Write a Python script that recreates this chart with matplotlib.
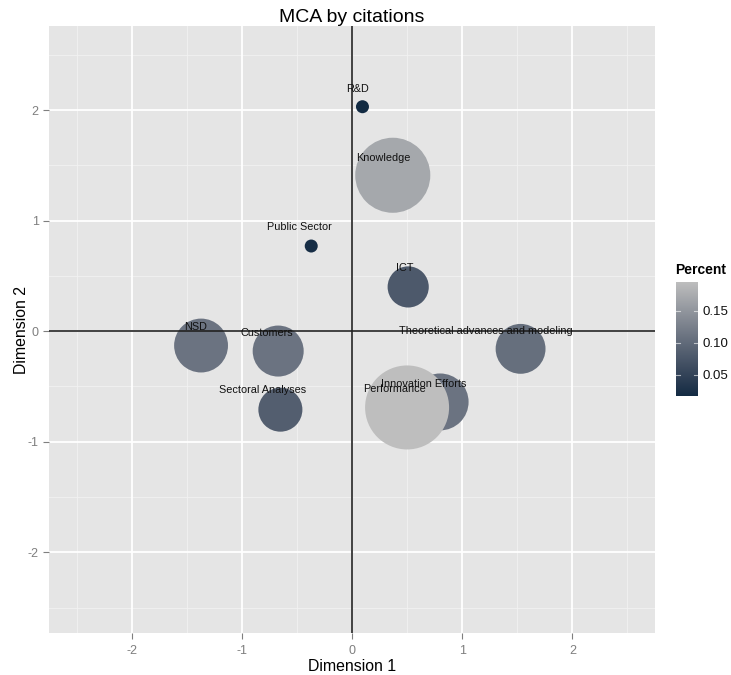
import numpy as np
import matplotlib
matplotlib.use("Agg")
import matplotlib.pyplot as plt
from matplotlib.colors import ListedColormap, Normalize, to_rgb

plt.rcParams['font.family'] = ['Liberation Sans', 'DejaVu Sans']

# ---- data ----
categories = ["R&D", "Knowledge", "Public Sector", "ICT", "NSD", "Customers",
              "Theoretical advances and modeling", "Sectoral Analyses",
              "Innovation Efforts", "Performance"]
dim1 = [0.095, 0.37, -0.37, 0.51, -1.37, -0.67, 1.53, -0.65, 0.80, 0.50]
dim2 = [2.03, 1.41, 0.77, 0.40, -0.13, -0.18, -0.16, -0.71, -0.64, -0.69]
percent = [0.017, 0.170, 0.020, 0.078, 0.110, 0.110, 0.105, 0.085, 0.110, 0.195]
bubble = [0.017, 0.153, 0.017, 0.045, 0.076, 0.068, 0.065, 0.051, 0.085, 0.195]
label_x = [0.05, 0.28, -0.48, 0.48, -1.42, -0.77, 1.21, -0.81, 0.65, 0.39]
label_y = [2.19, 1.57, 0.94, 0.57, 0.04, -0.02, 0.00, -0.53, -0.48, -0.52]
ticks = [-2, -1, 0, 1, 2]
cbar_ticks = [0.05, 0.10, 0.15]


# ---- Lab-interpolated gradient (like ggplot scale_colour_gradient) ----
M = np.array([[0.4124, 0.3576, 0.1805], [0.2126, 0.7152, 0.0722], [0.0193, 0.1192, 0.9505]])
WHITE = np.array([0.95047, 1.0, 1.08883])


def srgb_to_lab(c):
    c = np.asarray(c, float)
    lin = np.where(c <= 0.04045, c / 12.92, ((c + 0.055) / 1.055) ** 2.4)
    xyz = M @ lin / WHITE
    f = np.where(xyz > 0.008856, np.cbrt(xyz), 7.787 * xyz + 16 / 116)
    return np.array([116 * f[1] - 16, 500 * (f[0] - f[1]), 200 * (f[1] - f[2])])


def lab_to_srgb(lab):
    L, a, b = lab
    fy = (L + 16) / 116
    f = np.array([fy + a / 500, fy, fy - b / 200])
    xyz = np.where(f ** 3 > 0.008856, f ** 3, (f - 16 / 116) / 7.787) * WHITE
    lin = np.clip(np.linalg.inv(M) @ xyz, 0, 1)
    c = np.where(lin <= 0.0031308, 12.92 * lin, 1.055 * lin ** (1 / 2.4) - 0.055)
    return np.clip(c, 0, 1)


lo = srgb_to_lab(to_rgb("#132B43"))
hi = srgb_to_lab(to_rgb("#BEBEBE"))
cmap = ListedColormap([lab_to_srgb(lo + (hi - lo) * t) for t in np.linspace(0, 1, 256)])

vmin, vmax = min(percent), max(percent)
norm = Normalize(vmin=vmin, vmax=vmax)

# ---- bubble diameters (area-style rescale) ----
b = np.array(bubble)
frac = (b - b.min()) / (b.max() - b.min())
d_px = 13 + (84 - 13) * np.sqrt(frac)
sizes = (d_px * 72 / 100) ** 2

fig = plt.figure(figsize=(7.31, 6.75), dpi=100)
ax = fig.add_axes([49 / 731, 1 - 633 / 675, (655 - 49) / 731, (633 - 26) / 675])
ax.set_facecolor("#E5E5E5")
ax.set_xlim(-2.75, 2.75)
ax.set_ylim(-2.73, 2.76)

for v in [-2.5, -1.5, -0.5, 0.5, 1.5, 2.5]:
    ax.axvline(v, color="#F2F2F2", lw=0.6, zorder=0)
    ax.axhline(v, color="#F2F2F2", lw=0.6, zorder=0)
for v in ticks:
    ax.axvline(v, color="white", lw=1.3, zorder=0.5)
    ax.axhline(v, color="white", lw=1.3, zorder=0.5)

ax.scatter(dim1, dim2, s=sizes, c=percent, cmap=cmap, norm=norm,
           edgecolors="none", zorder=2)
ax.axhline(0, color="#222222", lw=1.2, zorder=3)
ax.axvline(0, color="#222222", lw=1.2, zorder=3)

for name, lx, ly in zip(categories, label_x, label_y):
    ax.text(lx, ly, name, ha="center", va="center", fontsize=7.8,
            color="#111111", zorder=4)

ax.set_xticks(ticks)
ax.set_yticks(ticks)
ax.set_xticklabels([str(t) for t in ticks])
ax.set_yticklabels([str(t) for t in ticks])
ax.tick_params(axis="both", colors="#7F7F7F", labelsize=9, length=4, width=0.8,
               labelcolor="#7F7F7F")
ax.tick_params(axis="x", pad=5)
for s in ax.spines.values():
    s.set_visible(False)

ax.set_xlabel("Dimension 1", fontsize=11.4, labelpad=1)
ax.set_ylabel("Dimension 2", fontsize=11.4, labelpad=-1)
ax.set_title("MCA by citations", fontsize=14, pad=2)

# ---- colorbar ----
cax = fig.add_axes([676 / 731, 1 - 396 / 675, 22 / 731, 114 / 675])
grad = np.linspace(vmin, vmax, 256).reshape(-1, 1)
cax.imshow(grad, aspect="auto", cmap=cmap, norm=norm, origin="lower",
           extent=[0, 1, vmin, vmax])
cax.set_xlim(0, 1)
cax.set_ylim(vmin, vmax)
cax.set_xticks([])
cax.yaxis.tick_right()
cax.set_yticks(cbar_ticks)
cax.set_yticklabels(["%.2f" % t for t in cbar_ticks])
cax.tick_params(axis="y", length=0, labelsize=9.5, pad=3, labelcolor="#111111")
for t in cbar_ticks:
    cax.plot([0, 0.2], [t, t], color="white", lw=0.8, alpha=0.6)
    cax.plot([0.8, 1], [t, t], color="white", lw=0.8, alpha=0.6)
for s in cax.spines.values():
    s.set_visible(False)
fig.text(675 / 731, 1 - 270 / 675, "Percent", fontsize=10, fontweight="bold",
         ha="left", va="center")

fig.savefig("out.png", dpi=100)
